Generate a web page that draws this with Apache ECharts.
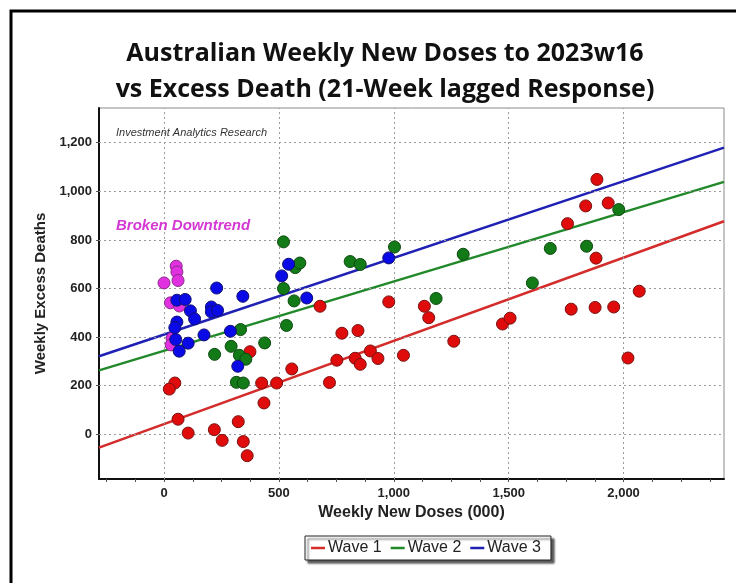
<!DOCTYPE html>
<html>
<head>
<meta charset="utf-8">
<script src="https://cdn.jsdelivr.net/npm/echarts@6/dist/echarts.min.js"></script>
<style>
html,body{margin:0;padding:0;background:#fff;}
#c{width:736px;height:583px;}
</style>
</head>
<body>
<div id="c"></div>
<script>
// ---- data ----
const titleLines = ['Australian Weekly New Doses to 2023w16', 'vs Excess Death (21-Week lagged Response)'];
const xName = 'Weekly New Doses (000)';
const yName = 'Weekly Excess Deaths';
const seriesNames = ['Wave 1', 'Wave 2', 'Wave 3'];
const xTickLabels = [0, 500, 1000, 1500, 2000];
const xMinorTicks = [-250,-125,0,125,250,375,500,625,750,875,1000,1125,1250,1375,1500,1625,1750,1875,2000,2125,2250,2375];
const yTickLabels = [0, 200, 400, 600, 800, 1000, 1200];
const xRange = [-283, 2437];
const yRange = [-184, 1343];

const wave1 = [[374,340],[556,269],[47,211],[23,186],[425,211],[490,211],[435,129],[61,62],[323,52],[105,5],[219,19],[253,-25],[345,-30],[362,-88],[679,527],[978,545],[1133,527],[1152,480],[774,416],[844,427],[1261,383],[1473,454],[1506,478],[752,305],[832,313],[854,288],[898,343],[931,312],[1042,325],[720,213],[1884,1049],[1835,940],[1933,952],[1756,867],[1880,725],[2068,589],[1772,515],[1876,522],[1957,524],[2019,314]];
const wave2 = [[520,792],[571,686],[520,600],[566,549],[533,448],[333,431],[438,376],[292,362],[220,329],[328,325],[356,309],[315,214],[345,211],[591,705],[810,711],[854,699],[1003,771],[1302,741],[1184,559],[1603,623],[1979,925],[1681,765],[1839,774]];
const wave3 = [[56,552],[92,555],[229,602],[343,568],[115,508],[133,475],[206,524],[206,504],[233,510],[56,462],[47,439],[51,390],[105,375],[66,342],[174,409],[289,424],[321,280],[542,700],[512,652],[621,561],[978,726]];
const brokenDowntrend = [[53,692],[56,668],[0,623],[61,633],[28,541],[67,528],[35,395],[31,368]];

const trend1 = [[-283,-55],[2437,877]];
const trend2 = [[-283,263],[2437,1039]];
const trend3 = [[-283,321],[2437,1180]];

const annotationTop = 'Investment Analytics Research';
const annotationBroken = 'Broken Downtrend';

// ---- chart ----
const chart = echarts.init(document.getElementById('c'), null, {renderer: 'canvas'});
const gridLineStyle = {color: '#9a9a9a', width: 1, type: [2, 3]};
const numFmt = v => v.toLocaleString('en-US');

function pts(name, data, fill, border) {
  return {
    name: name, type: 'scatter', data: data, symbolSize: 12,
    itemStyle: {color: fill, borderColor: border, borderWidth: 1, opacity: 1},
    z: 5, silent: true
  };
}
function trend(name, data, color) {
  return {
    name: name, type: 'line', data: data, showSymbol: false, symbol: 'none',
    lineStyle: {color: color, width: 2.5}, itemStyle: {color: color},
    z: 3, silent: true, animation: false
  };
}

const option = {
  animation: false,
  backgroundColor: '#fff',
  title: {
    text: titleLines.join('\n'),
    left: 380, top: 31, textAlign: 'center',
    textStyle: {fontFamily: 'Open Sans', fontWeight: 700, fontSize: 25, lineHeight: 36, color: '#111'}
  },
  grid: {left: 99, right: 12, top: 108, bottom: 104, show: true, borderColor: '#8a8a8a', borderWidth: 1, backgroundColor: '#fff'},
  legend: {
    data: seriesNames.map(n => ({name: n, icon: 'rect'})),
    left: 305, top: 536, itemWidth: 14, itemHeight: 2.5, itemGap: 9,
    padding: [4, 10, 4, 6],
    textStyle: {fontFamily: 'Liberation Sans', fontSize: 16, color: '#222', padding: [0, 0, 0, -2]},
    backgroundColor: '#fff', borderColor: '#222', borderWidth: 1,
    shadowColor: 'rgba(0,0,0,0.65)', shadowOffsetX: 3, shadowOffsetY: 3, shadowBlur: 2
  },
  xAxis: {
    type: 'value', min: xRange[0], max: xRange[1],
    name: xName, nameLocation: 'middle', nameGap: 26,
    nameTextStyle: {fontFamily: 'Liberation Sans', fontWeight: 'bold', fontSize: 16, color: '#222'},
    axisLine: {show: true, onZero: false, lineStyle: {color: '#111', width: 2}},
    axisTick: {show: true, customValues: xMinorTicks, length: 3, lineStyle: {color: '#555'}},
    axisLabel: {customValues: xTickLabels, formatter: numFmt, margin: 8,
      fontFamily: 'Liberation Sans', fontWeight: 'bold', fontSize: 13, color: '#222'},
    splitLine: {show: false}
  },
  yAxis: {
    type: 'value', min: yRange[0], max: yRange[1],
    name: yName, nameLocation: 'middle', nameGap: 44,
    nameTextStyle: {fontFamily: 'Liberation Sans', fontWeight: 'bold', fontSize: 15, color: '#222'},
    axisLine: {show: true, onZero: false, lineStyle: {color: '#111', width: 2}},
    axisTick: {show: true, customValues: yTickLabels, length: 3, lineStyle: {color: '#555'}},
    axisLabel: {customValues: yTickLabels, formatter: numFmt, margin: 7,
      fontFamily: 'Liberation Sans', fontWeight: 'bold', fontSize: 13, color: '#222'},
    splitLine: {show: false}
  },
  series: [
    {
      name: 'grid', type: 'scatter', data: [], silent: true, z: 1,
      markLine: {
        silent: true, symbol: 'none', label: {show: false}, animation: false,
        lineStyle: gridLineStyle,
        data: xTickLabels.map(v => ({xAxis: v})).concat(yTickLabels.map(v => ({yAxis: v})))
      }
    },
    trend(seriesNames[0], trend1, '#d42b2b'),
    trend(seriesNames[1], trend2, '#22892a'),
    trend(seriesNames[2], trend3, '#2020b4'),
    pts('w1', wave1, '#e00c0c', '#7a1010'),
    pts('w2', wave2, '#137a18', '#0c4a10'),
    pts('bd', brokenDowntrend, '#e030e0', '#8a2a8a'),
    pts('w3', wave3, '#0a0ae6', '#101070')
  ],
  graphic: [
    {type: 'rect', silent: true, z: 100,
     shape: {x: 11, y: 11, width: 900, height: 700},
     style: {fill: 'none', stroke: '#000', lineWidth: 3}},
    {type: 'text', left: 116, top: 127, silent: true, z: 50,
     style: {text: annotationTop, font: 'italic 11px "Liberation Sans"', fill: '#333'}},
    {type: 'text', left: 116, top: 218, silent: true, z: 50,
     style: {text: annotationBroken, font: 'italic bold 15px "Liberation Sans"', fill: '#d438d4'}}
  ]
};
chart.setOption(option);
</script>
</body>
</html>
